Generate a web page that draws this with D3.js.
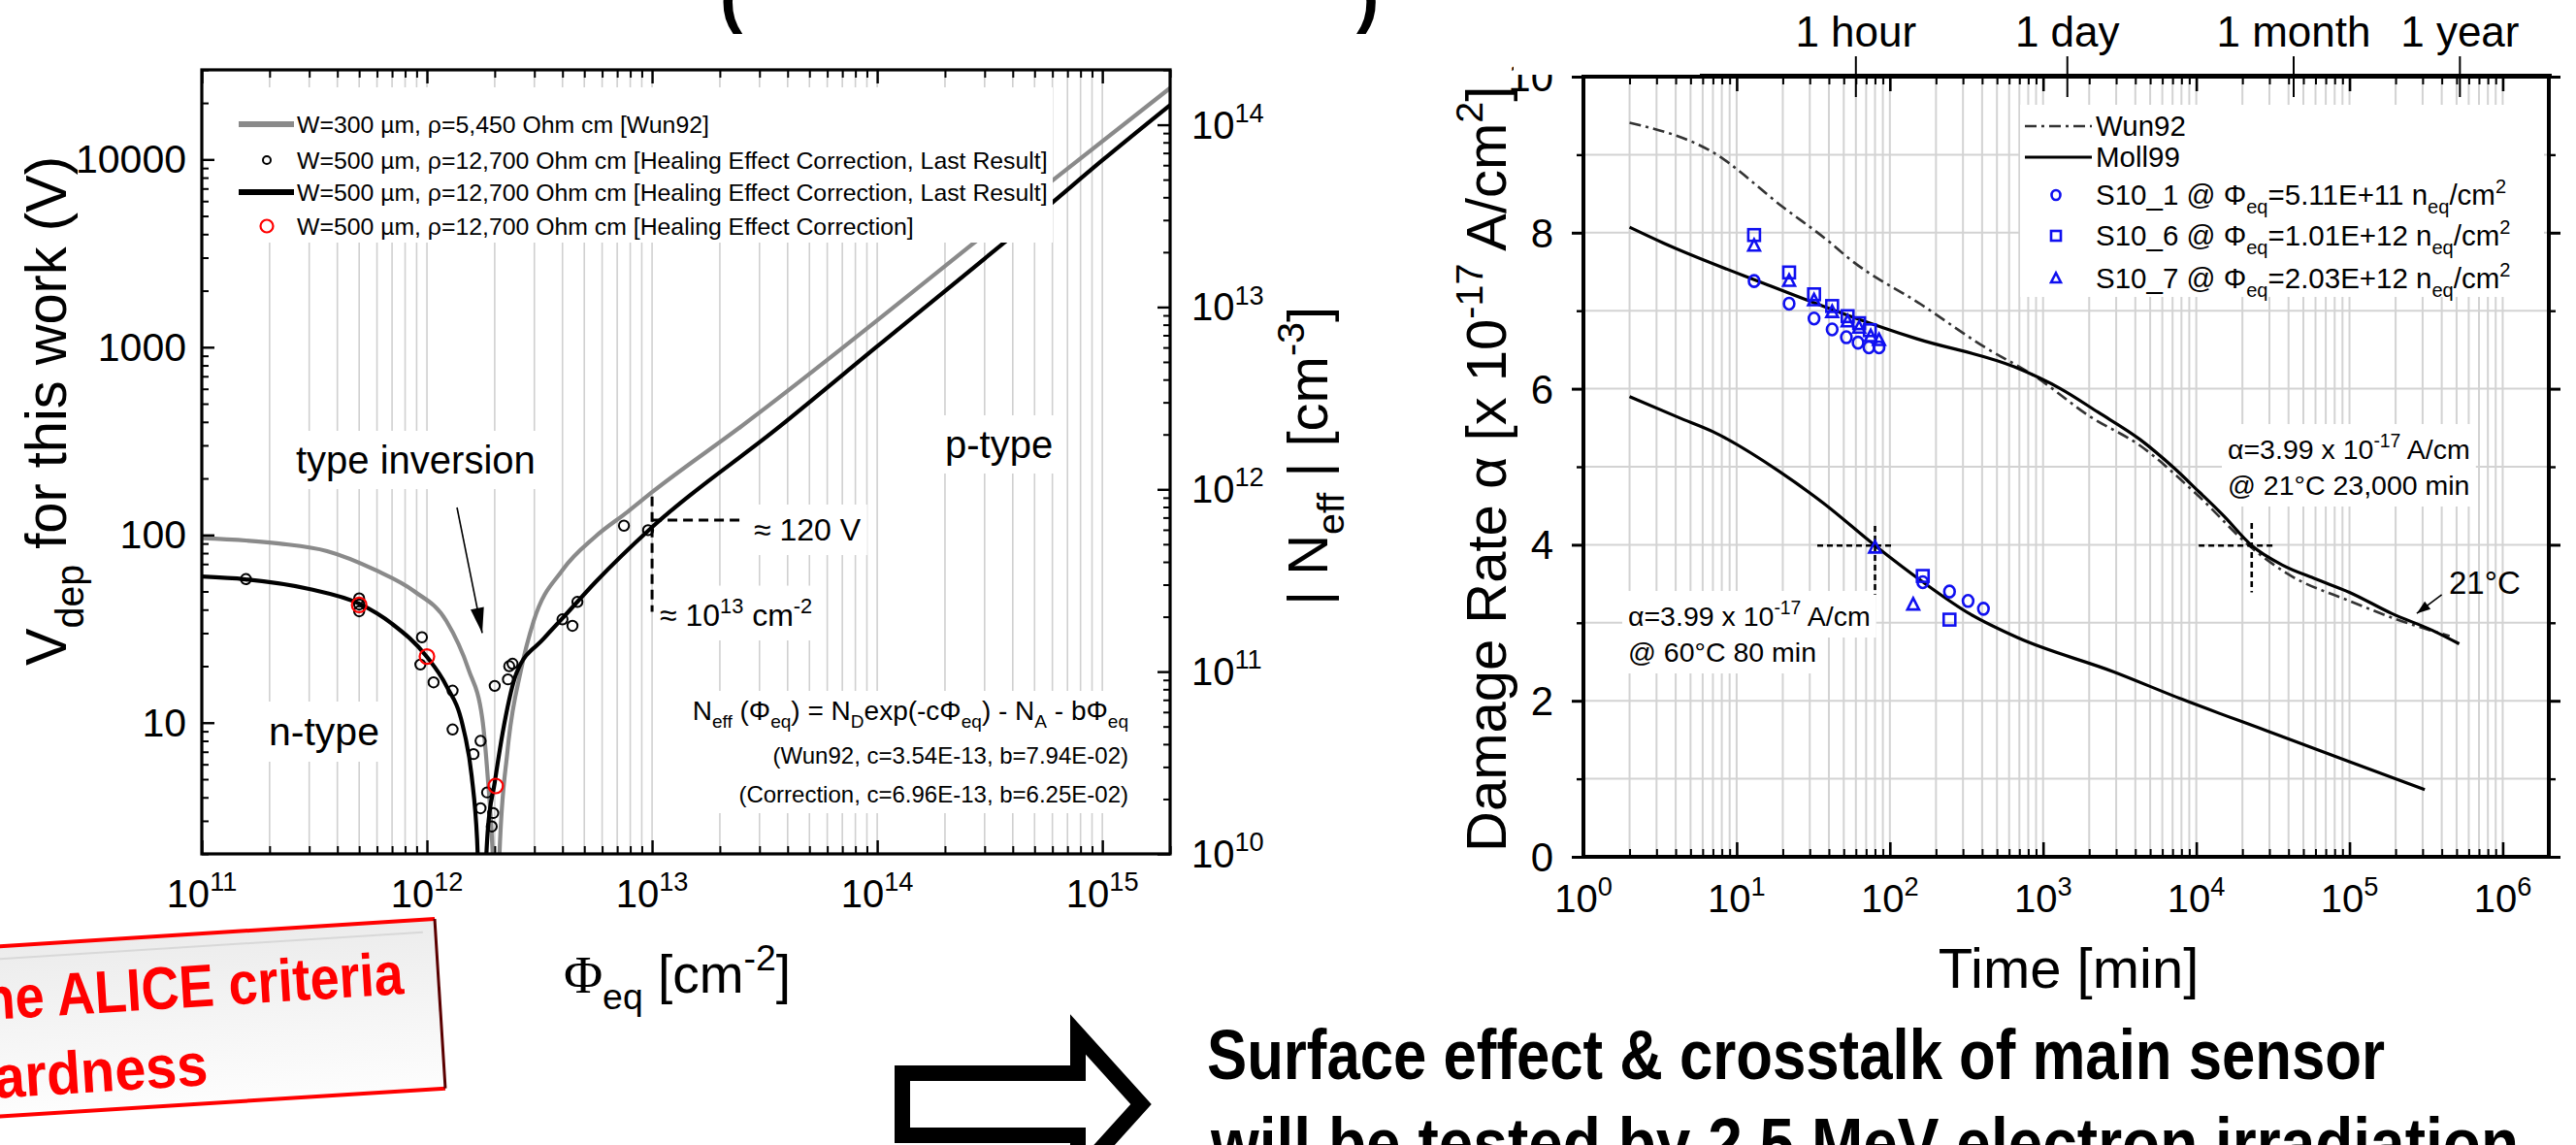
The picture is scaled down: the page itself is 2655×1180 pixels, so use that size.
<!DOCTYPE html>
<html>
<head>
<meta charset="utf-8">
<script src="https://cdn.jsdelivr.net/npm/d3@7"></script>
<style>
  html, body { margin: 0; padding: 0; background: #fff; }
  svg { display: block; }
  text { font-family: "Liberation Sans", Arial, sans-serif; fill: #000; }
</style>
</head>
<body>
<svg id="slide" width="2655" height="1180"></svg>
<script>
// ---------------- Left panel: full depletion voltage vs. fluence ----------------
const fluenceMajor = [1e11, 1e12, 1e13, 1e14, 1e15];
const vdepMajor = [10, 100, 1000, 10000];
const neffMajor = [1e10, 1e11, 1e12, 1e13, 1e14];

// Hamburg-model fits, split at the type-inversion point (fluence cm^-2, Vdep V)
const fitCorrN = [[1e11,60],[1.56e11,58],[3e11,51.5],[5e11,43],[7e11,33.6],[1e12,22.4],[1.22e12,15.7],[1.44e12,9.7],[1.58e12,5.2],[1.67e12,2.4],[1.72e12,1.0]];
const fitCorrP = [[1.79e12,1.0],[1.86e12,2.6],[2.0e12,4.8],[2.2e12,9.7],[2.5e12,18.4],[3.3e12,28],[4e12,36],[5.6e12,56],[1e13,110],[3.67e13,376],[1e14,1010],[5.7e14,5600],[1e15,9900],[2e15,19500]];
const fitWunN = [[1e11,96],[2.2e11,90],[3.6e11,82],[5.9e11,65],[8.8e11,50],[1.22e12,34.8],[1.53e12,19.2],[1.76e12,10.6],[1.87e12,4.8],[1.96e12,2.0],[2.0e12,1.0]];
const fitWunP = [[2.06e12,1.0],[2.1e12,2.0],[2.28e12,7.1],[2.62e12,19.2],[2.98e12,34.8],[4e12,65],[5.6e12,98],[7.8e12,133],[1e13,169],[2.47e13,376],[5.7e14,7360],[2e15,24000]];

// measured depletion voltages
const measLast = [[1.57e11,58.2],[5e11,45.9],[5e11,42.6],[5e11,39.2],[9.5e11,28.5],[9.35e11,20.4],[1.07e12,16.4],[1.3e12,14.8],[1.3e12,9.2],[1.73e12,8.0],[1.61e12,6.8],[1.85e12,4.25],[1.73e12,3.5],[1.97e12,3.3],[1.94e12,2.8],[2.0e12,15.7],[2.29e12,17.0],[2.32e12,20],[2.4e12,20.6],[4.0e12,35.5],[4.43e12,32.8],[4.66e12,44],[7.5e12,112],[9.6e12,106]];
const measCorr = [[5e11,42.4],[1e12,22.5],[2.02e12,4.6]];

const guideFluence = 1e13, guideV = 120;
const inversionArrow = [[1.36e12,140],[1.76e12,30]];

const legendLeft = [
  "W=300 \u00b5m, \u03c1=5,450 Ohm cm [Wun92]",
  "W=500 \u00b5m, \u03c1=12,700 Ohm cm [Healing Effect Correction, Last Result]",
  "W=500 \u00b5m, \u03c1=12,700 Ohm cm [Healing Effect Correction, Last Result]",
  "W=500 \u00b5m, \u03c1=12,700 Ohm cm [Healing Effect Correction]"
];
const fitParams = ["(Wun92, c=3.54E-13, b=7.94E-02)", "(Correction, c=6.96E-13, b=6.25E-02)"];

// ---------------- Right panel: damage rate annealing ----------------
const timeMajor = [1, 10, 100, 1e3, 1e4, 1e5, 1e6];
const alphaTicks = [0, 2, 4, 6, 8, 10];
const landmarkNames = ["1 hour", "1 day", "1 month", "1 year"];
const landmarkMinutes = [60, 1440, 43200, 525600];

const wun92Curve = [[2,9.41],[7,9.03],[20,8.33],[41,7.87],[54,7.67],[160,7.08],[403,6.55],[900,6.15],[2000,5.65],[4300,5.27],[10400,4.62],[23000,3.96],[40000,3.62],[1e5,3.28],[2.2e5,3.02],[4.5e5,2.83]];
const moll21 = [[2,8.07],[3.3,7.87],[16,7.33],[50,6.96],[150,6.64],[650,6.28],[1300,6.0],[2280,5.70],[4290,5.35],[7100,4.99],[10400,4.68],[15100,4.37],[23000,3.99],[36500,3.74],[60400,3.56],[1e5,3.39],[1.88e5,3.12],[3.5e5,2.90],[5.2e5,2.73]];
const moll60 = [[2,5.90],[4.2,5.63],[7,5.45],[19,4.94],[37,4.53],[80,3.99],[165,3.52],[335,3.11],[680,2.81],[2900,2.37],[8060,2.02],[28400,1.62],[1e5,1.22],[3.1e5,0.86]];

const sampleNames = ["S10_1", "S10_6", "S10_7"];
const sampleFluence = ["5.11E+11", "1.01E+12", "2.03E+12"];
const sampleShapes = ["circle", "square", "triangle"];
const s10_1 = [[13,7.38],[22,7.09],[32,6.90],[42,6.76],[52,6.66],[62,6.59],[73,6.53],[85,6.53],[164,3.52],[245,3.40],[324,3.28],[408,3.18]];
const s10_6 = [[13,7.97],[22,7.49],[32,7.21],[42,7.06],[53,6.93],[63,6.84],[74,6.75],[164,3.60],[245,3.04]];
const s10_7 = [[13,7.83],[22,7.38],[32,7.13],[42,6.98],[53,6.86],[63,6.78],[75,6.67],[85,6.62],[80,3.96],[142,3.23]];

const alphaRef = 3.99;
const crossHot = {t: 80, span: [33.6, 106], a: [3.36, 4.24]};
const crossRoom = {t: 23000, span: [10370, 32200], a: [3.39, 4.28]};
const roomArrow = [[4.0e5,3.36],[2.75e5,3.12]];

// ---------------- helpers ----------------
const svg = d3.select("#slide");
svg.append("rect").attr("width", 2655).attr("height", 1180).attr("fill", "#fff");

function rich(g, x, y, parts, fs, anchor) {
  const t = g.append("text").attr("x", x).attr("y", y).attr("font-size", fs)
    .attr("text-anchor", anchor || "start");
  let off = 0;
  parts.forEach(p => {
    const s = typeof p === "string" ? {t: p} : p;
    const want = s.sub ? fs * 0.3 : s.sup ? -fs * 0.42 : 0;
    const ts = t.append("tspan").attr("dy", want - off).text(s.t);
    if (s.sub || s.sup) ts.attr("font-size", fs * 0.68);
    if (s.font) ts.attr("font-family", s.font);
    off = want;
  });
  return t;
}
function whiteBehind(t, px, py) {
  const b = t.node().getBBox();
  d3.select(t.node().parentNode).insert("rect", () => t.node())
    .attr("x", b.x - px).attr("y", b.y - py)
    .attr("width", b.width + 2 * px).attr("height", b.height + 2 * py)
    .attr("fill", "#fff");
}
function logSteps(lo, hi) {
  const out = [];
  for (let e = Math.floor(Math.log10(lo)); e <= Math.ceil(Math.log10(hi)); e++)
    for (let k = 1; k <= 9; k++) {
      const v = k * Math.pow(10, e);
      if (v >= lo * 0.999 && v <= hi * 1.001) out.push(v);
    }
  return out;
}
function tickRow(g, axisFn, scale, values, size, tx, ty, sw) {
  const a = g.append("g").attr("transform", `translate(${tx},${ty})`)
    .call(axisFn(scale).tickValues(values).tickSize(size).tickFormat(""));
  a.select(".domain").remove();
  a.selectAll("line").attr("stroke", "#000").attr("stroke-width", sw);
}
function arrowHead(g, x1, y1, x2, y2, len, half) {
  const ang = Math.atan2(y2 - y1, x2 - x1);
  const bx = x2 - len * Math.cos(ang), by = y2 - len * Math.sin(ang);
  const nx = -Math.sin(ang) * half, ny = Math.cos(ang) * half;
  g.append("path").attr("d", `M${x2},${y2}L${bx + nx},${by + ny}L${bx - nx},${by - ny}Z`).attr("fill", "#000");
}
// rotated axis title squeezed along its run to a given length
function verticalTitle(g, x, y, parts, fs, runLength) {
  const tt = rich(g, 0, 0, parts, fs);
  const natural = tt.node().getComputedTextLength();
  const k = runLength ? runLength / natural : 1;
  tt.attr("transform", `translate(${x},${y}) rotate(-90) scale(${k},1)`);
  return tt;
}

// ======================= LEFT PANEL =======================
const L = {x0: 208, x1: 1206, y0: 72, y1: 880};
const xL = d3.scaleLog().domain([1e11, 2e15]).range([L.x0, L.x1]);
const yL = d3.scaleLog().domain([2, 30000]).range([L.y1, L.y0]);
const yN = d3.scaleLog().domain([1e10, 2e14]).range([L.y1, L.y0]);

const gL = svg.append("g");
gL.append("defs").append("clipPath").attr("id", "clipL").append("rect")
  .attr("x", L.x0).attr("y", L.y0).attr("width", L.x1 - L.x0).attr("height", L.y1 - L.y0);

// vertical grid
gL.append("g").selectAll("line").data(logSteps(1e11, 2e15)).join("line")
  .attr("x1", d => xL(d)).attr("x2", d => xL(d)).attr("y1", L.y0).attr("y2", L.y1)
  .attr("stroke", "#d0d0d0").attr("stroke-width", 1.6);

// text annotations with white boxes
const annL = gL.append("g");
let t;
t = rich(annL, 305, 488, ["type inversion"], 40); whiteBehind(t, 10, 8);
t = rich(annL, 974, 472, ["p-type"], 40); whiteBehind(t, 10, 8);
t = rich(annL, 277, 768, ["n-type"], 41); whiteBehind(t, 10, 8);
t = rich(annL, 777, 557, ["\u2248 120 V"], 32); whiteBehind(t, 6, 8);
t = rich(annL, 680, 645, ["\u2248 10", {t: "13", sup: true}, " cm", {t: "-2", sup: true}], 32); whiteBehind(t, 6, 8);
const fx = 1163;
const f1 = rich(annL, fx, 742, ["N", {t: "eff", sub: true}, " (\u03a6", {t: "eq", sub: true}, ") = N", {t: "D", sub: true},
  "exp(-c\u03a6", {t: "eq", sub: true}, ") - N", {t: "A", sub: true}, " - b\u03a6", {t: "eq", sub: true}], 28, "end");
rich(annL, fx, 787, [fitParams[0]], 24, "end");
rich(annL, fx, 827, [fitParams[1]], 24, "end");
annL.insert("rect", () => f1.node()).attr("x", 695).attr("y", 712).attr("width", 475).attr("height", 126).attr("fill", "#fff");

// fit curves
const lineL = d3.line().x(d => xL(d[0])).y(d => yL(d[1])).curve(d3.curveMonotoneX);
const curvesL = gL.append("g").attr("clip-path", "url(#clipL)");
[fitWunN, fitWunP].forEach(c => curvesL.append("path").attr("d", lineL(c))
  .attr("fill", "none").attr("stroke", "#8a8a8a").attr("stroke-width", 4.2));
[fitCorrN, fitCorrP].forEach(c => curvesL.append("path").attr("d", lineL(c))
  .attr("fill", "none").attr("stroke", "#000").attr("stroke-width", 4.2));

// guide lines at ~1e13 cm^-2
const guide = gL.append("g").attr("stroke", "#000").attr("stroke-width", 3).attr("stroke-dasharray", "10,6");
guide.append("line").attr("x1", xL(guideFluence)).attr("x2", xL(2.47e13))
  .attr("y1", yL(guideV)).attr("y2", yL(guideV));
guide.append("line").attr("x1", xL(guideFluence)).attr("x2", xL(guideFluence))
  .attr("y1", yL(160)).attr("y2", yL(39));

// inversion arrow
{
  const [a, b] = inversionArrow;
  const x1 = xL(a[0]), y1 = yL(a[1]), x2 = xL(b[0]), y2 = yL(b[1]);
  gL.append("line").attr("x1", x1).attr("y1", y1).attr("x2", x2).attr("y2", y2)
    .attr("stroke", "#000").attr("stroke-width", 1.6);
  arrowHead(gL, x1, y1, x2, y2, 26, 7);
}

// measured points
const ptsL = gL.append("g").attr("clip-path", "url(#clipL)");
ptsL.selectAll("circle.m").data(measLast).join("circle").attr("class", "m")
  .attr("cx", d => xL(d[0])).attr("cy", d => yL(d[1])).attr("r", 5.2)
  .attr("fill", "none").attr("stroke", "#000").attr("stroke-width", 2);
ptsL.selectAll("circle.r").data(measCorr).join("circle").attr("class", "r")
  .attr("cx", d => xL(d[0])).attr("cy", d => yL(d[1])).attr("r", 7.5)
  .attr("fill", "none").attr("stroke", "#f00").attr("stroke-width", 2.2);

// legend
const lg = gL.append("g");
lg.append("rect").attr("x", 212).attr("y", 90).attr("width", 873).attr("height", 160).attr("fill", "#fff");
const legY = [128, 165, 198, 233];
lg.append("line").attr("x1", 246).attr("x2", 303).attr("y1", legY[0]).attr("y2", legY[0]).attr("stroke", "#8a8a8a").attr("stroke-width", 6);
lg.append("circle").attr("cx", 275).attr("cy", legY[1]).attr("r", 4).attr("fill", "none").attr("stroke", "#000").attr("stroke-width", 2);
lg.append("line").attr("x1", 246).attr("x2", 303).attr("y1", legY[2]).attr("y2", legY[2]).attr("stroke", "#000").attr("stroke-width", 6);
lg.append("circle").attr("cx", 275).attr("cy", legY[3]).attr("r", 6.5).attr("fill", "none").attr("stroke", "#f00").attr("stroke-width", 2.2);
legendLeft.forEach((s, i) => rich(lg, 306, legY[i] + 8.5, [s], 24.8));

// frame and ticks
const axL = gL.append("g");
const minorX = logSteps(1e11, 2e15).filter(v => !fluenceMajor.includes(v));
tickRow(axL, d3.axisBottom, xL, minorX, -8, 0, L.y1, 2);
tickRow(axL, d3.axisBottom, xL, fluenceMajor, -14, 0, L.y1, 2.4);
tickRow(axL, d3.axisTop, xL, minorX, -8, 0, L.y0, 2);
tickRow(axL, d3.axisTop, xL, fluenceMajor, -14, 0, L.y0, 2.4);
const minorV = logSteps(2, 30000).filter(v => !vdepMajor.includes(v));
tickRow(axL, d3.axisLeft, yL, minorV, -7, L.x0, 0, 2);
tickRow(axL, d3.axisLeft, yL, vdepMajor, -13, L.x0, 0, 2.4);
const minorN = logSteps(1e10, 2e14).filter(v => !neffMajor.includes(v));
tickRow(axL, d3.axisRight, yN, minorN, -7, L.x1, 0, 2);
tickRow(axL, d3.axisRight, yN, neffMajor, -13, L.x1, 0, 2.4);
axL.append("rect").attr("x", L.x0).attr("y", L.y0).attr("width", L.x1 - L.x0).attr("height", L.y1 - L.y0)
  .attr("fill", "none").attr("stroke", "#000").attr("stroke-width", 3.2);

// tick labels
fluenceMajor.forEach(v => rich(axL, xL(v), 935, ["10", {t: String(Math.round(Math.log10(v))), sup: true}], 40, "middle"));
vdepMajor.forEach(v => rich(axL, 192, yL(v) + 14, [String(v)], 41, "end"));
neffMajor.forEach(v => rich(axL, 1228, yN(v) + 14, ["10", {t: String(Math.round(Math.log10(v))), sup: true}], 40));

// axis titles
rich(axL, 698, 1023, [{t: "\u03a6", font: "Liberation Serif"}, {t: "eq", sub: true}, " [cm", {t: "-2", sup: true}, "]"], 55, "middle");
verticalTitle(axL, 68, 686, ["V", {t: "dep", sub: true}, " for this work (V)"], 60, 525);
verticalTitle(axL, 1368, 624, ["| N", {t: "eff", sub: true}, " | [cm", {t: "-3", sup: true}, "]"], 58);

// ======================= RIGHT PANEL =======================
const R = {x0: 1632, x1: 2627, y0: 79, y1: 883};
const xT = d3.scaleLog().domain([1, 2e6]).range([R.x0, R.x1]);
const yA = d3.scaleLinear().domain([0, 10]).range([R.y1, R.y0]);
const gR = svg.append("g");

// grid
const gridR = gR.append("g").attr("stroke", "#d3d3d3").attr("stroke-width", 2);
gridR.selectAll("line.v").data(logSteps(1, 1e6)).join("line").attr("class", "v")
  .attr("x1", d => xT(d)).attr("x2", d => xT(d)).attr("y1", R.y0).attr("y2", R.y1);
gridR.selectAll("line.h").data(d3.range(1, 10)).join("line").attr("class", "h")
  .attr("x1", R.x0).attr("x2", R.x1).attr("y1", d => yA(d)).attr("y2", d => yA(d));

// annotation boxes
const annR = gR.append("g");
const aTxt = (x, y) => rich(annR, x, y, ["\u03b1=3.99 x 10", {t: "-17", sup: true}, " A/cm"], 28.5);
t = aTxt(2296, 473); whiteBehind(t, 6, 6);
t = rich(annR, 2296, 510, ["@ 21\u00b0C 23,000 min"], 28.5); whiteBehind(t, 6, 6);
t = aTxt(1678, 645); whiteBehind(t, 6, 6);
t = rich(annR, 1678, 682, ["@ 60\u00b0C 80 min"], 28.5); whiteBehind(t, 6, 6);

// curves
const lineR = d3.line().x(d => xT(d[0])).y(d => yA(d[1])).curve(d3.curveMonotoneX);
gR.append("path").attr("d", lineR(wun92Curve)).attr("fill", "none").attr("stroke", "#333")
  .attr("stroke-width", 2.6).attr("stroke-dasharray", "12,5,3,5");
gR.append("path").attr("d", lineR(moll21)).attr("fill", "none").attr("stroke", "#000").attr("stroke-width", 3.2);
gR.append("path").attr("d", lineR(moll60)).attr("fill", "none").attr("stroke", "#000").attr("stroke-width", 3.2);

// reference crosses at alpha = 3.99
[crossHot, crossRoom].forEach(c => {
  const g = gR.append("g").attr("stroke", "#000").attr("stroke-width", 2.6).attr("stroke-dasharray", "6,4");
  g.append("line").attr("x1", xT(c.span[0])).attr("x2", xT(c.span[1])).attr("y1", yA(alphaRef)).attr("y2", yA(alphaRef));
  g.append("line").attr("x1", xT(c.t)).attr("x2", xT(c.t)).attr("y1", yA(c.a[1])).attr("y2", yA(c.a[0]));
});

// 21 C label and arrow
rich(gR, 2524, 612, ["21\u00b0C"], 33);
{
  const [a, b] = roomArrow;
  const x1 = xT(a[0]), y1 = yA(a[1]), x2 = xT(b[0]), y2 = yA(b[1]);
  gR.append("line").attr("x1", x1).attr("y1", y1).attr("x2", x2).attr("y2", y2).attr("stroke", "#000").attr("stroke-width", 1.6);
  arrowHead(gR, x1, y1, x2, y2, 14, 5);
}

// markers
const blue = "#1010f0";
function marker(g, shape, cx, cy, s) {
  let m;
  if (shape === "circle") m = g.append("ellipse").attr("cx", cx).attr("cy", cy).attr("rx", s * 0.9).attr("ry", s);
  else if (shape === "square") m = g.append("rect").attr("x", cx - s).attr("y", cy - s).attr("width", 2 * s).attr("height", 2 * s);
  else m = g.append("path").attr("d", `M${cx},${cy - s * 1.15}L${cx + s},${cy + s * 0.8}L${cx - s},${cy + s * 0.8}Z`);
  return m.attr("fill", "none").attr("stroke", blue).attr("stroke-width", 2.6);
}
const ptsR = gR.append("g");
[s10_1, s10_6, s10_7].forEach((arr, i) => arr.forEach(d => marker(ptsR, sampleShapes[i], xT(d[0]), yA(d[1]), 6)));

// legend
const lgR = gR.append("g");
lgR.append("rect").attr("x", 2082).attr("y", 108).attr("width", 540).attr("height", 198).attr("fill", "#fff");
lgR.append("line").attr("x1", 2087).attr("x2", 2156).attr("y1", 130).attr("y2", 130)
  .attr("stroke", "#333").attr("stroke-width", 2.6).attr("stroke-dasharray", "12,5,3,5");
lgR.append("line").attr("x1", 2087).attr("x2", 2156).attr("y1", 162).attr("y2", 162).attr("stroke", "#000").attr("stroke-width", 3.2);
rich(lgR, 2160, 140, ["Wun92"], 29.5);
rich(lgR, 2160, 172, ["Moll99"], 29.5);
const legSampleY = [201, 243, 287];
sampleNames.forEach((n, i) => {
  marker(lgR, sampleShapes[i], 2119, legSampleY[i], 5);
  rich(lgR, 2160, legSampleY[i] + 10, [n + " @ \u03a6", {t: "eq", sub: true}, "=" + sampleFluence[i] + " n", {t: "eq", sub: true}, "/cm", {t: "2", sup: true}], 29.5);
});

// axes
const axR = gR.append("g");
const minorT = logSteps(1, 1e6).filter(v => !timeMajor.includes(v));
tickRow(axR, d3.axisBottom, xT, minorT, -8, 0, R.y1, 2);
tickRow(axR, d3.axisBottom, xT, timeMajor, -15, 0, R.y1, 2.6);
tickRow(axR, d3.axisTop, xT, minorT, -8, 0, R.y0, 2);
tickRow(axR, d3.axisTop, xT, timeMajor, -15, 0, R.y0, 2.6);
const oddA = [1, 3, 5, 7, 9];
tickRow(axR, d3.axisLeft, yA, alphaTicks, 12, R.x0, 0, 3);
tickRow(axR, d3.axisLeft, yA, oddA, 7, R.x0, 0, 2.4);
tickRow(axR, d3.axisRight, yA, alphaTicks, 12, R.x1, 0, 3);
tickRow(axR, d3.axisRight, yA, oddA, 7, R.x1, 0, 2.4);
axR.append("rect").attr("x", R.x0).attr("y", R.y0).attr("width", R.x1 - R.x0).attr("height", R.y1 - R.y0)
  .attr("fill", "none").attr("stroke", "#000").attr("stroke-width", 4);

timeMajor.forEach(v => rich(axR, xT(v), 940, ["10", {t: String(Math.round(Math.log10(v))), sup: true}], 40, "middle"));
alphaTicks.forEach(v => rich(axR, 1601, yA(v) + 15, [String(v)], 42, "end"));

rich(axR, 2132, 1018, ["Time [min]"], 58, "middle");
verticalTitle(axR, 1552, 878, ["Damage Rate \u03b1 [x 10", {t: "-17", sup: true}, " A/cm", {t: "2", sup: true}, "]"], 58);

// time landmarks strip along the top
const strip = gR.append("g");
strip.append("rect").attr("x", 1560).attr("y", 0).attr("width", 1080).attr("height", 77).attr("fill", "#fff");
strip.append("line").attr("x1", 1752).attr("x2", 2630).attr("y1", 78).attr("y2", 78).attr("stroke", "#000").attr("stroke-width", 4);
landmarkMinutes.forEach((m, i) => {
  strip.append("line").attr("x1", xT(m)).attr("x2", xT(m)).attr("y1", 58).attr("y2", 100).attr("stroke", "#000").attr("stroke-width", 2);
  rich(strip, xT(m), 48, [landmarkNames[i]], 44, "middle");
});

// ======================= slide decorations =======================
const deco = svg.append("g");
// tails of the title parentheses
deco.append("text").attr("x", 742).attr("y", 20).attr("font-size", 70).attr("font-weight", 700).text("(");
deco.append("text").attr("x", 1398).attr("y", 20).attr("font-size", 70).attr("font-weight", 700).text(")");

// red framed note (rotated)
const note = deco.append("g").attr("transform", "rotate(-3.6,448,947)");
const grad = svg.append("defs").append("linearGradient").attr("id", "noteFill").attr("x1", 0).attr("y1", 0).attr("x2", 0).attr("y2", 1);
grad.append("stop").attr("offset", "0%").attr("stop-color", "#ececec");
grad.append("stop").attr("offset", "100%").attr("stop-color", "#fdfdfd");
note.append("rect").attr("x", -80).attr("y", 947).attr("width", 528).attr("height", 175).attr("fill", "url(#noteFill)");
note.append("line").attr("x1", -80).attr("x2", 448).attr("y1", 947).attr("y2", 947).attr("stroke", "#f00").attr("stroke-width", 4);
note.append("line").attr("x1", -80).attr("x2", 448).attr("y1", 1122).attr("y2", 1122).attr("stroke", "#f00").attr("stroke-width", 4);
note.append("line").attr("x1", 448).attr("x2", 448).attr("y1", 947).attr("y2", 1122).attr("stroke", "#5a0000").attr("stroke-width", 3);
note.append("line").attr("x1", -80).attr("x2", 435).attr("y1", 960).attr("y2", 960).attr("stroke", "#d8d8d8").attr("stroke-width", 2);
note.append("text").attr("x", 412).attr("y", 1022).attr("text-anchor", "end").attr("font-family", "Lato, 'Open Sans', sans-serif")
  .attr("font-weight", 700).attr("font-size", 62).attr("textLength", 452).attr("lengthAdjust", "spacingAndGlyphs")
  .style("fill", "#f00").text("the ALICE criteria");
note.append("text").attr("x", 205).attr("y", 1103).attr("text-anchor", "end").attr("font-family", "Lato, 'Open Sans', sans-serif")
  .attr("font-weight", 700).attr("font-size", 62).attr("textLength", 256).attr("lengthAdjust", "spacingAndGlyphs")
  .style("fill", "#f00").text("hardness");

// hollow block arrow
deco.append("path").attr("d", "M930,1106L1111,1106L1111,1066L1176,1138L1111,1210L1111,1170L930,1170Z")
  .attr("fill", "#fff").attr("stroke", "#000").attr("stroke-width", 16).attr("stroke-linejoin", "miter");

// closing message
deco.append("text").attr("x", 1244).attr("y", 1112).attr("font-family", "Lato, 'Open Sans', sans-serif")
  .attr("font-weight", 700).attr("font-size", 72).attr("textLength", 1214).attr("lengthAdjust", "spacingAndGlyphs")
  .text("Surface effect & crosstalk of main sensor");
deco.append("text").attr("x", 1248).attr("y", 1203).attr("font-family", "Lato, 'Open Sans', sans-serif")
  .attr("font-weight", 700).attr("font-size", 72).attr("textLength", 1348).attr("lengthAdjust", "spacingAndGlyphs")
  .text("will be tested by 2.5 MeV electron irradiation");
</script>
</body>
</html>
